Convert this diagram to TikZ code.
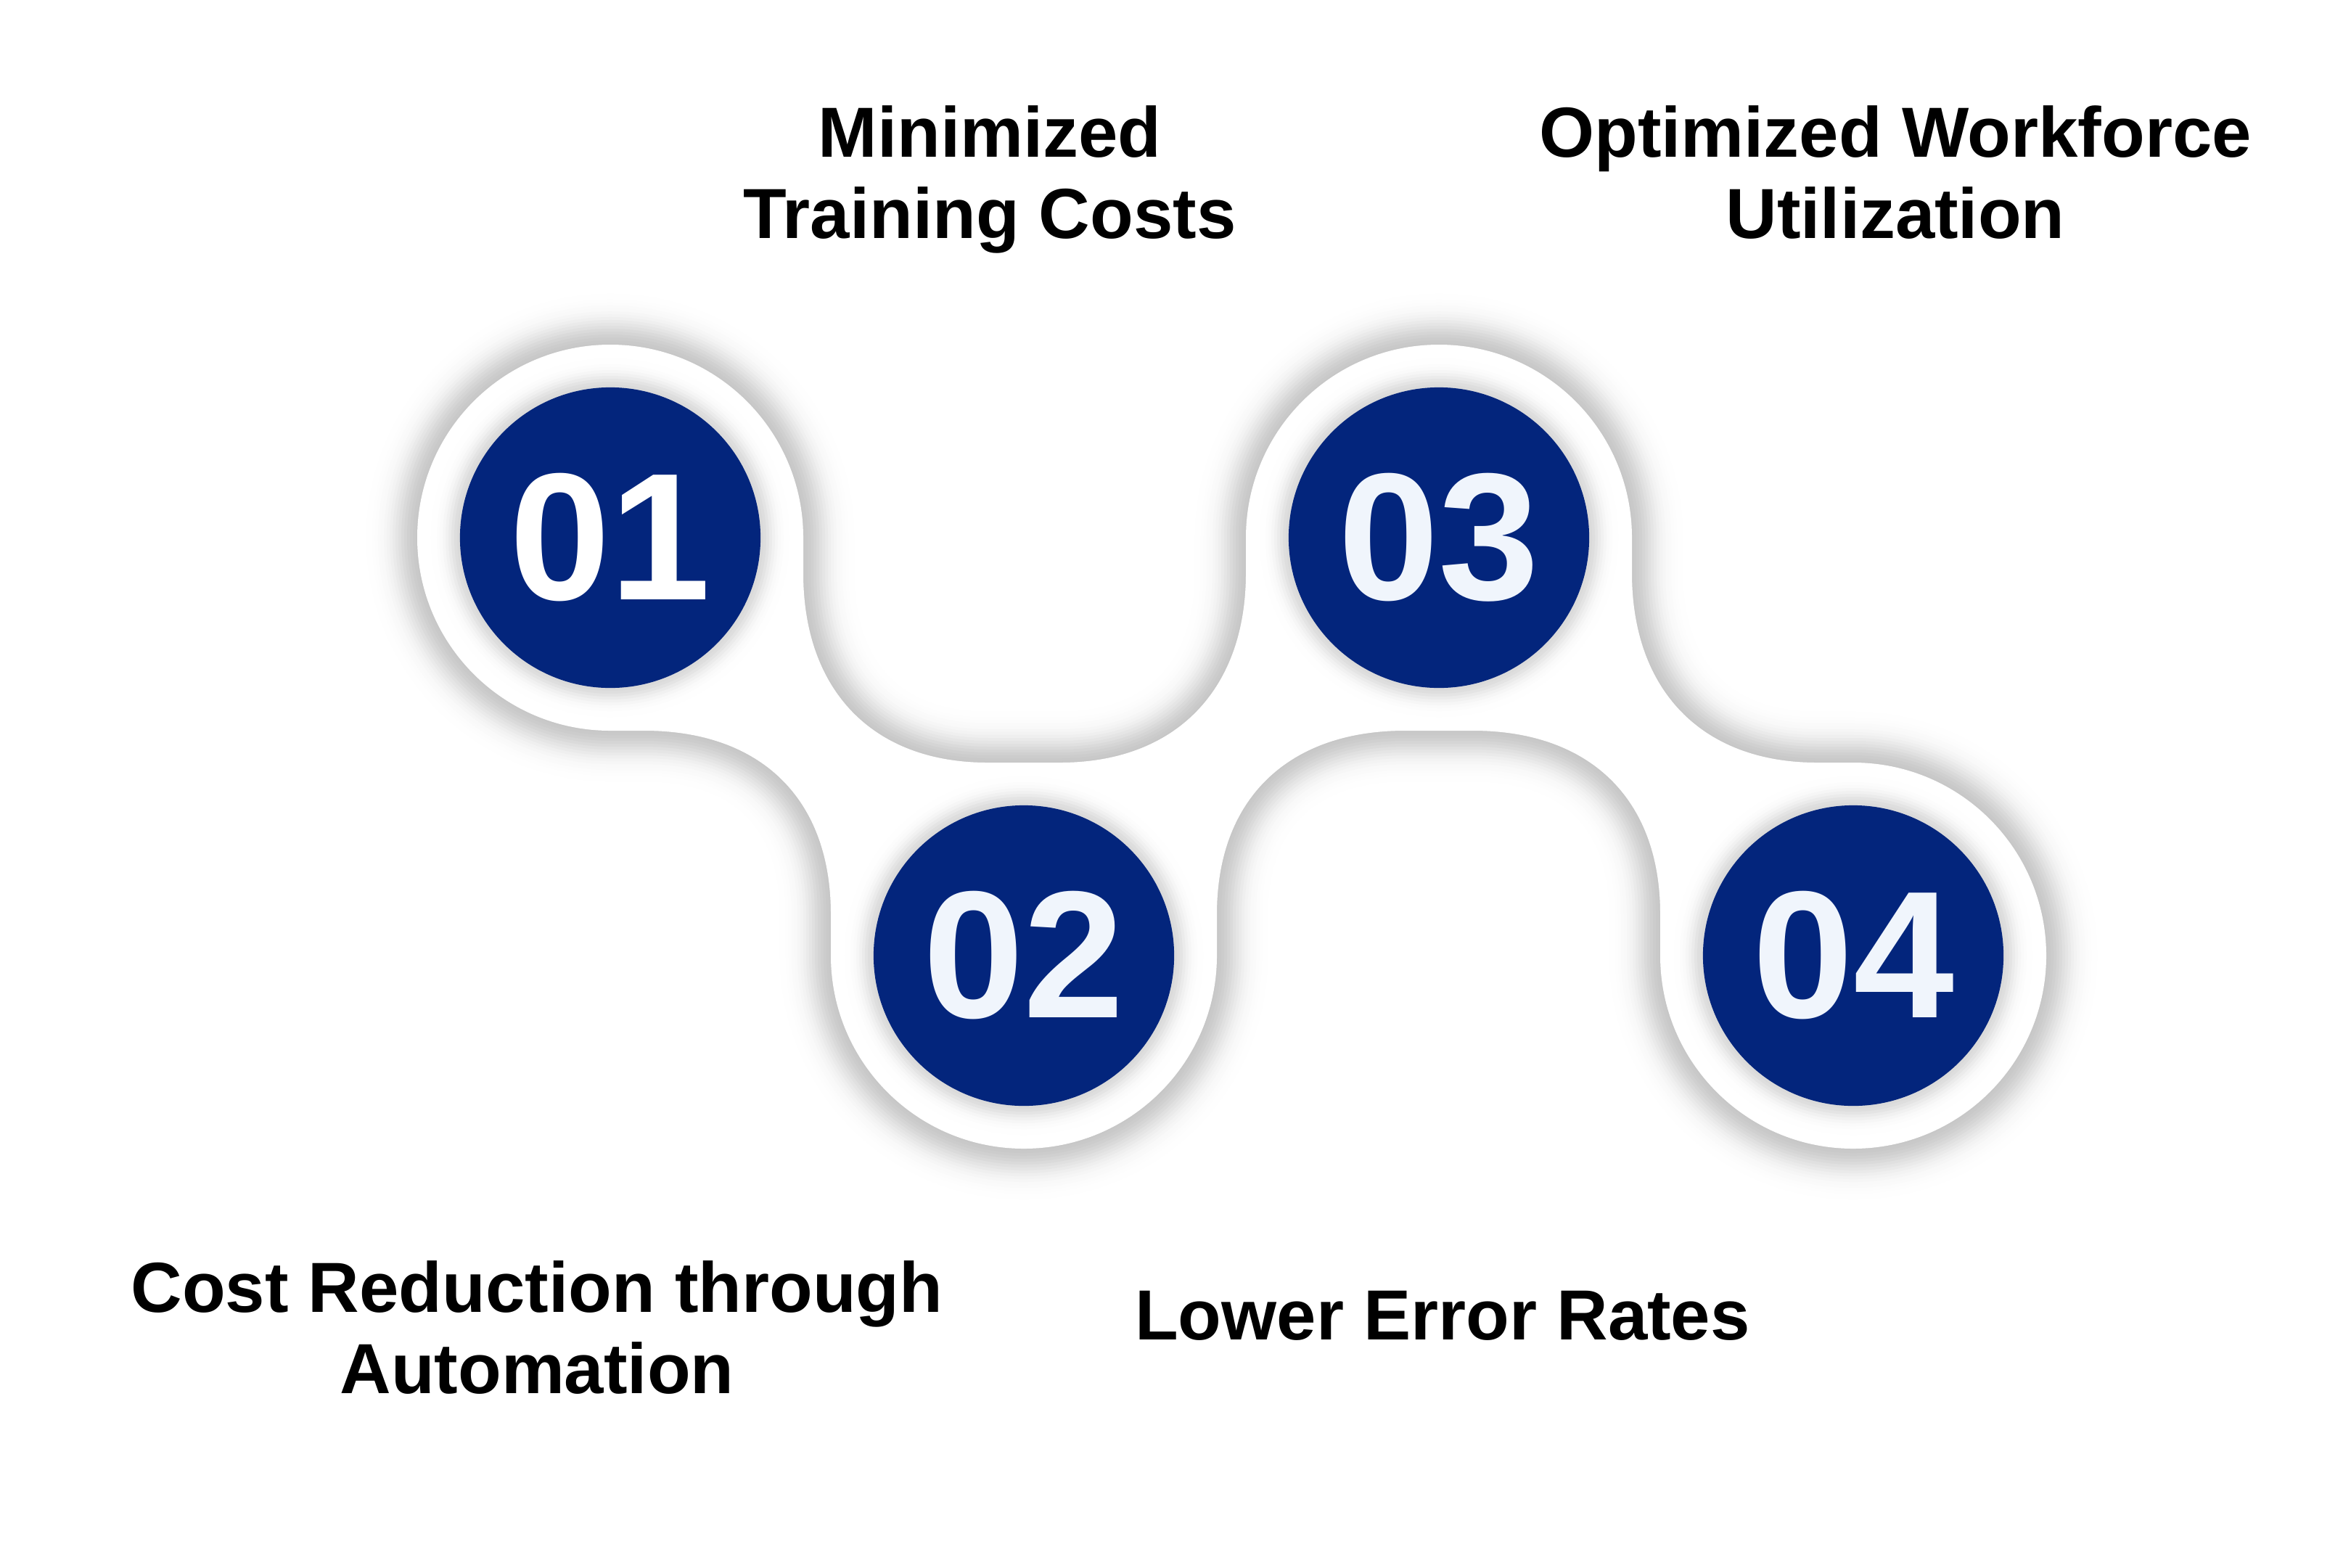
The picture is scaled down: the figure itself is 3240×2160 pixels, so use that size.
\documentclass[tikz,border=0pt]{standalone}
\usepackage{fontspec}
\setmainfont{Liberation Sans}
\definecolor{navy}{RGB}{3,37,124}
\definecolor{digitw}{RGB}{240,245,252}
\begin{document}
\begin{tikzpicture}[x=0.01cm,y=-0.01cm,line join=round,
  lbl/.style={font=\bfseries\fontsize{27.8}{31.8}\selectfont,align=center,inner sep=0pt,text=black},
  disc/.style={circle,fill=navy,minimum size=4.14cm,inner sep=0pt,
    font=\bfseries\fontsize{71}{71}\selectfont,text=digitw}]
\fill[white] (0,0) rectangle (3240,2160);
\useasboundingbox (0,0) rectangle (3240,2160);
\def\snakepath{(575,741) arc[start angle=180,end angle=360,radius=266]
  -- (1107,790) .. controls (1107,950) and (1201,1051) .. (1361,1051)
  -- (1461,1051) .. controls (1621,1051) and (1717,950) .. (1717,790)
  -- (1717,741) arc[start angle=180,end angle=360,radius=266]
  -- (2249,790) .. controls (2249,950) and (2344,1051) .. (2504,1051)
  -- (2554,1051) arc[start angle=270,end angle=540,radius=266]
  -- (2288,1260) .. controls (2288,1100) and (2190,1007) .. (2030,1007)
  -- (1936,1007) .. controls (1776,1007) and (1677,1100) .. (1677,1260)
  -- (1677,1317) arc[start angle=0,end angle=180,radius=266]
  -- (1145,1260) .. controls (1145,1100) and (1048,1007) .. (888,1007)
  -- (841,1007) arc[start angle=90,end angle=180,radius=266] -- cycle}
% soft shadow of the white band
\foreach \d in {74,70,...,2}{
  \pgfmathsetmacro\k{22*exp(-(\d/34)^2)}
  \pgfmathsetmacro\w{\d*0.2}
  \draw[line width=\w mm,color=black!\k!white] \snakepath;
}
\fill[white] \snakepath;
% halos around the dark discs
\foreach \cx/\cy in {841/741,1411/1317,1983/741,2554/1317}{
  \foreach \d in {48,44,...,2}{
    \pgfmathsetmacro\k{15*exp(-(\d/20)^2)}
    \pgfmathsetmacro\w{\d*0.2}
    \draw[line width=\w mm,color=black!\k!white] (\cx,\cy) circle[radius=207];
  }
}
\node[disc,text=white] (n1) at (841,741) {01};
\node[disc] (n2) at (1411,1317) {02};
\node[disc] (n3) at (1983,741) {03};
\node[disc] (n4) at (2554,1317) {04};
\node[lbl,anchor=base] (t1) at (1364,328) {Minimized\\Training Costs};
\node[lbl,anchor=base] (t3) at (2612,328) {Optimized Workforce\\Utilization};
\node[lbl,anchor=base] (t2) at (740,1920) {Cost Reduction through\\Automation};
\node[lbl,anchor=base] (t4) at (1988,1846) {Lower Error Rates};
\end{tikzpicture}
\end{document}
